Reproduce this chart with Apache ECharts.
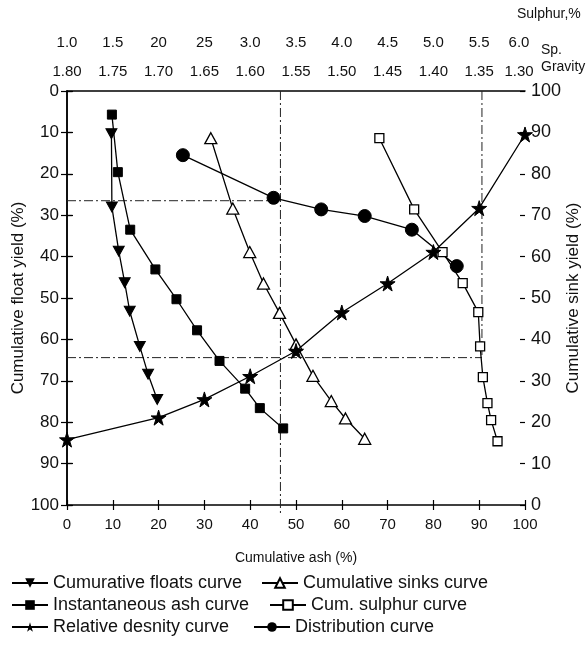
<!DOCTYPE html>
<html>
<head>
<meta charset="utf-8">
<script src="https://cdn.jsdelivr.net/npm/echarts@6/dist/echarts.min.js"></script>
<style>
  html, body { margin: 0; padding: 0; background: #fff; }
  #chart { width: 586px; height: 645px; }
</style>
</head>
<body>
<div id="chart"></div>
<script>
// Washability data: cumulative ash (%) / yield (%)
const floatsAsh   = [9.7, 9.8, 11.3, 12.6, 13.7, 15.9, 17.7, 19.7];
const floatsYield = [10.3, 28.0, 38.7, 46.3, 53.2, 61.7, 68.4, 74.5];

const sinksAsh   = [31.4, 36.2, 39.9, 42.9, 46.4, 50.0, 53.7, 57.7, 60.8, 65.0];
const sinksYield = [88.6, 71.6, 61.1, 53.5, 46.4, 38.8, 31.2, 25.1, 20.9, 16.0];

const instAsh   = [9.8, 11.1, 13.8, 19.3, 23.9, 28.4, 33.3, 38.9, 42.1, 47.2];
const instYield = [5.7, 19.6, 33.5, 43.1, 50.3, 57.8, 65.2, 71.9, 76.6, 81.5];

const sulphurPct   = [4.41, 4.79, 5.10, 5.32, 5.49, 5.51, 5.54, 5.59, 5.63, 5.70];
const sulphurYield = [11.4, 28.6, 38.9, 46.4, 53.4, 61.7, 69.1, 75.4, 79.5, 84.6];

const densitySG    = [1.80, 1.70, 1.65, 1.60, 1.55, 1.50, 1.45, 1.40, 1.35, 1.30];
const densityYield = [84.2, 78.9, 74.5, 68.9, 62.8, 53.5, 46.5, 38.9, 28.3, 10.5];

const distAsh   = [25.3, 45.1, 55.5, 65.0, 75.3, 85.1];
const distYield = [15.5, 25.8, 28.6, 30.2, 33.5, 42.3];

// Cut-point guide lines (ash %, float yield %)
const guideA = [[0, 26.5], [45.1, 26.5]];
const guideB = [[46.6, 0], [46.6, 102]];
const guideC = [[0, 64.4], [90.6, 64.4]];
const guideD = [[90.6, 0], [90.6, 64.4]];

// Top scale labels
const sgLabels = ['1.80', '1.75', '1.70', '1.65', '1.60', '1.55', '1.50', '1.45', '1.40', '1.35', '1.30'];
const sulphurLabels = ['1.0', '1.5', '20', '25', '3.0', '3.5', '4.0', '4.5', '5.0', '5.5', '6.0'];

const seriesNames = [
  'Cumurative floats curve', 'Cumulative sinks curve',
  'Instantaneous ash curve', 'Cum. sulphur curve',
  'Relative desnity curve', 'Distribution curve'
];

const zip = (a, b) => a.map((v, i) => [v, b[i]]);

const FONT = '"Liberation Sans", Arial, sans-serif';
const INK = '#111';
const STAR = 'path://M50,0 L61,35 L98,35 L68,57 L79,91 L50,70 L21,91 L32,57 L2,35 L39,35 Z';
const DOWN_TRI = 'path://M0,0 L10,0 L5,9 Z';

const lineStyle = { color: '#000', width: 1.3 };
const filled = { color: '#000', borderColor: '#000' };
const hollow = { color: '#fff', borderColor: '#000', borderWidth: 1.3 };
const guideStyle = { color: '#222', width: 1, type: [9, 3, 2, 3] };

const grid = { left: 67, right: 61, top: 91, bottom: 140, containLabel: false, outerBoundsMode: 'none' };

// last label on each top scale is nudged left so it clears the unit captions
const topLabelRich = {
  shift: { fontFamily: FONT, fontSize: 15, color: INK, padding: [0, 12, 0, 0] }
};

function guide(data) {
  return {
    type: 'line', xAxisIndex: 0, yAxisIndex: 0, data, symbol: 'none',
    lineStyle: guideStyle, silent: true, clip: false, z: 1
  };
}

function legendAt(name, left, top) {
  return {
    data: [name], left, top, itemWidth: 36, itemHeight: 12, itemGap: 6,
    textStyle: { fontFamily: FONT, fontSize: 18, color: INK },
    selectedMode: false
  };
}

const chart = echarts.init(document.getElementById('chart'), null, { renderer: 'canvas' });

chart.setOption({
  animation: false,
  backgroundColor: '#fff',
  grid,
  legend: [
    legendAt(seriesNames[0], 6, 569),
    legendAt(seriesNames[1], 256, 569),
    legendAt(seriesNames[2], 6, 591),
    legendAt(seriesNames[3], 264, 591),
    legendAt(seriesNames[4], 6, 613),
    legendAt(seriesNames[5], 248, 613)
  ],
  xAxis: [
    { // cumulative ash, bottom
      type: 'value', position: 'bottom', min: 0, max: 100, interval: 10,
      name: 'Cumulative ash (%)', nameLocation: 'middle', nameGap: 46,
      nameTextStyle: { fontFamily: FONT, fontSize: 14, color: INK },
      axisLine: { lineStyle: { color: '#000', width: 1.5 } },
      axisTick: { show: false },
      axisLabel: { fontFamily: FONT, fontSize: 15, color: INK, margin: 12 },
      splitLine: { show: false }
    },
    { // specific gravity, top
      type: 'value', position: 'top', min: 1.30, max: 1.80, interval: 0.05, inverse: true,
      axisLine: { lineStyle: { color: '#000', width: 1.5 } },
      axisTick: { show: true, inside: false, length: 5, lineStyle: { color: '#000', width: 1.2 } },
      axisLabel: {
        fontFamily: FONT, fontSize: 15, color: INK, margin: 12, rich: topLabelRich,
        formatter: v => {
          const i = Math.round((1.80 - v) / 0.05);
          return i === sgLabels.length - 1 ? '{shift|' + sgLabels[i] + '}' : sgLabels[i];
        }
      },
      splitLine: { show: false }
    },
    { // sulphur, top (outer row)
      type: 'value', position: 'top', offset: 28, min: 1.0, max: 6.0, interval: 0.5,
      axisLine: { show: false }, axisTick: { show: false },
      axisLabel: {
        fontFamily: FONT, fontSize: 15, color: INK, margin: 13, rich: topLabelRich,
        formatter: v => {
          const i = Math.round((v - 1.0) / 0.5);
          return i === sulphurLabels.length - 1 ? '{shift|' + sulphurLabels[i] + '}' : sulphurLabels[i];
        }
      },
      splitLine: { show: false }
    },
    { // inner half of the top ticks
      type: 'value', position: 'top', min: 0, max: 100, interval: 10,
      axisLine: { show: false },
      axisTick: { show: true, inside: true, length: 5, lineStyle: { color: '#000', width: 1.2 } },
      axisLabel: { show: false }, splitLine: { show: false }
    }
  ],
  yAxis: [
    { // cumulative float yield, left (0 at top)
      type: 'value', position: 'left', min: 0, max: 100, interval: 10, inverse: true,
      name: 'Cumulative float yield (%)', nameLocation: 'middle', nameGap: 40, nameRotate: 90,
      nameMoveOverlap: false,
      nameTextStyle: { fontFamily: FONT, fontSize: 17, color: INK },
      axisLine: { lineStyle: { color: '#000', width: 1.5 } },
      axisTick: { show: true, inside: false, length: 6, lineStyle: { color: '#000', width: 1.2 } },
      axisLabel: { fontFamily: FONT, fontSize: 17, color: INK, margin: 8 },
      splitLine: { show: false }
    },
    { // cumulative sink yield, right (0 at bottom)
      type: 'value', position: 'right', min: 0, max: 100, interval: 10,
      name: 'Cumulative sink yield (%)', nameLocation: 'middle', nameGap: 40, nameRotate: 90,
      nameMoveOverlap: false,
      nameTextStyle: { fontFamily: FONT, fontSize: 17, color: INK },
      axisLine: { lineStyle: { color: '#000', width: 1.5 } },
      axisTick: { show: true, inside: false, length: 5, lineStyle: { color: '#000', width: 1.2 } },
      axisLabel: { fontFamily: FONT, fontSize: 18, color: INK, margin: 6 },
      splitLine: { show: false }
    },
    { // inner half of the left ticks
      type: 'value', position: 'left', min: 0, max: 100, interval: 10, inverse: true,
      axisLine: { show: false },
      axisTick: { show: true, inside: true, length: 6, lineStyle: { color: '#000', width: 1.2 } },
      axisLabel: { show: false }, splitLine: { show: false }
    },
    { // inner half of the right ticks
      type: 'value', position: 'right', min: 0, max: 100, interval: 10,
      axisLine: { show: false },
      axisTick: { show: true, inside: true, length: 5, lineStyle: { color: '#000', width: 1.2 } },
      axisLabel: { show: false }, splitLine: { show: false }
    }
  ],
  graphic: [
    { type: 'text', left: 517, top: 7, style: { text: 'Sulphur,%', fontFamily: FONT, fontSize: 14, fill: INK } },
    { type: 'text', left: 541, top: 42, style: { text: 'Sp.\nGravity', fontFamily: FONT, fontSize: 14, lineHeight: 17, fill: INK } }
  ],
  series: [
    guide(guideA), guide(guideB), guide(guideC), guide(guideD),
    {
      name: seriesNames[0], type: 'line', xAxisIndex: 0, yAxisIndex: 0,
      data: zip(floatsAsh, floatsYield),
      symbol: DOWN_TRI, symbolSize: [11, 10], symbolKeepAspect: false,
      lineStyle, itemStyle: filled, z: 5
    },
    {
      name: seriesNames[1], type: 'line', xAxisIndex: 0, yAxisIndex: 1,
      data: zip(sinksAsh, sinksYield),
      symbol: 'triangle', symbolSize: [12, 11],
      lineStyle, itemStyle: hollow, z: 5
    },
    {
      name: seriesNames[2], type: 'line', xAxisIndex: 0, yAxisIndex: 0,
      data: zip(instAsh, instYield),
      symbol: 'rect', symbolSize: 9,
      lineStyle, itemStyle: filled, z: 5
    },
    {
      name: seriesNames[3], type: 'line', xAxisIndex: 2, yAxisIndex: 0,
      data: zip(sulphurPct, sulphurYield),
      symbol: 'rect', symbolSize: 9,
      lineStyle, itemStyle: hollow, z: 5
    },
    {
      name: seriesNames[4], type: 'line', xAxisIndex: 1, yAxisIndex: 0,
      data: zip(densitySG, densityYield),
      symbol: STAR, symbolSize: 15,
      lineStyle, itemStyle: filled, z: 6
    },
    {
      name: seriesNames[5], type: 'line', xAxisIndex: 0, yAxisIndex: 0,
      data: zip(distAsh, distYield),
      symbol: 'circle', symbolSize: 13,
      lineStyle, itemStyle: filled, z: 5
    }
  ]
});
</script>
</body>
</html>
